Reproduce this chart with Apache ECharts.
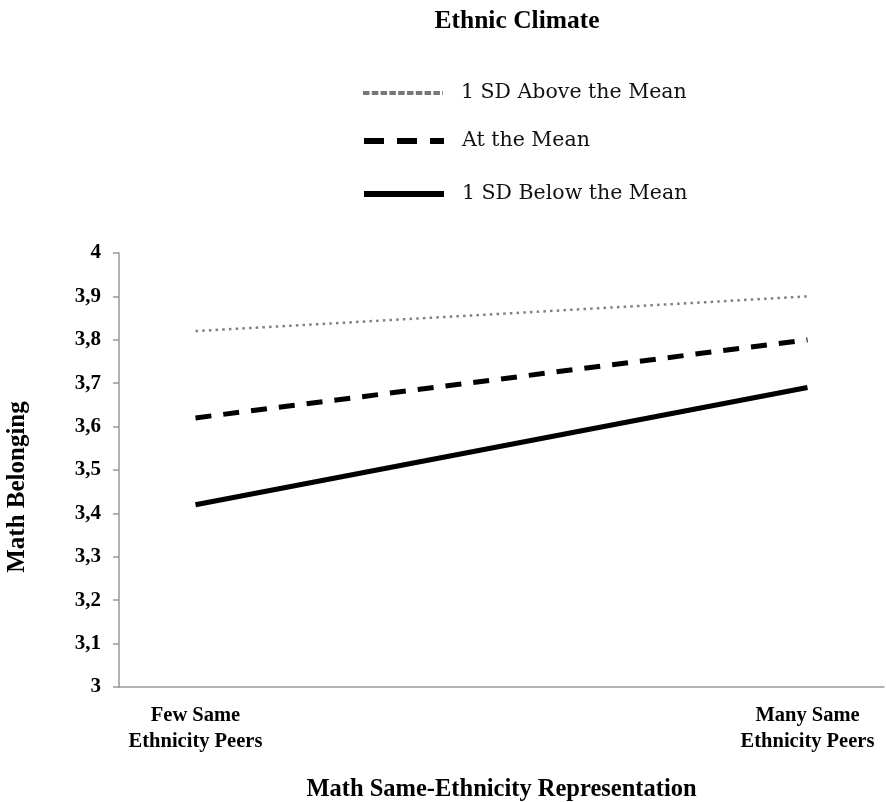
<!DOCTYPE html>
<html>
<head>
<meta charset="utf-8">
<script src="https://cdn.jsdelivr.net/npm/echarts@6/dist/echarts.min.js"></script>
<style>
  html, body { margin: 0; padding: 0; background: #fff; }
  #chart { width: 886px; height: 802px; }
</style>
</head>
<body>
<div id="chart"></div>
<script>
// categories (data only at both ends, middle slots kept empty like the original sheet)
var categories = ['Few Same\nEthnicity Peers', '', '', '', 'Many Same\nEthnicity Peers'];
var seriesNames = ['1 SD Above the Mean', 'At the Mean', '1 SD Below the Mean'];
var aboveMean = [3.82, null, null, null, 3.90];
var atMean = [3.62, null, null, null, 3.80];
var belowMean = [3.42, null, null, null, 3.69];

var serif = '"Liberation Serif", "Times New Roman", serif';
var legendFont = '"DejaVu Serif", serif';

// line looks for the plot and for the legend icons
var styles = [
    {color: '#808080', width: 2.5, type: [2.5, 4.2]},
    {color: '#000', width: 5, type: [16, 12]},
    {color: '#000', width: 5, type: 'solid'}
];
var legendStyles = [
    {color: '#777', width: 4, type: [6.5, 2.3]},
    {color: '#000', width: 6, type: [20, 13]},
    {color: '#000', width: 6, type: 'solid'}
];
var legendTops = [76, 124, 177];

var chart = echarts.init(document.getElementById('chart'));

var legends = [];
for (var i = 0; i < seriesNames.length; i++) {
    legends.push({
        orient: 'vertical',
        left: 356,
        top: legendTops[i],
        itemWidth: 80,
        itemHeight: 24,
        itemStyle: {opacity: 0},
        textStyle: {fontFamily: legendFont, fontSize: 20.5, lineHeight: 24, color: '#111', padding: [0, 0, 0, 13]},
        data: [{name: seriesNames[i], lineStyle: legendStyles[i]}]
    });
}

var values = [aboveMean, atMean, belowMean];
var series = [];
for (var j = 0; j < seriesNames.length; j++) {
    series.push({
        name: seriesNames[j],
        type: 'line',
        data: values[j],
        connectNulls: true,
        symbol: 'none',
        lineStyle: styles[j],
        itemStyle: {color: styles[j].color}
    });
}

var option = {
    backgroundColor: '#fff',
    animation: false,
    title: {
        text: 'Ethnic Climate',
        left: 512,
        top: 3,
        textAlign: 'center',
        textStyle: {fontFamily: serif, fontWeight: 'bold', fontSize: 25.5, color: '#000'}
    },
    legend: legends,
    grid: {left: 119, right: 2, top: 253, bottom: 115, outerBoundsMode: 'none'},
    xAxis: {
        type: 'category',
        data: categories,
        boundaryGap: true,
        name: 'Math Same-Ethnicity Representation',
        nameLocation: 'middle',
        nameGap: 90,
        nameTextStyle: {fontFamily: serif, fontWeight: 'bold', fontSize: 24.5, color: '#000'},
        axisLine: {lineStyle: {color: '#999', width: 1.5}},
        axisTick: {
            length: 6,
            interval: function (i) { return i !== 1; },
            lineStyle: {color: '#999', width: 1.5}
        },
        axisLabel: {
            interval: 0,
            margin: 16,
            fontFamily: serif,
            fontWeight: 'bold',
            fontSize: 20.5,
            lineHeight: 26,
            color: '#000'
        },
        splitLine: {show: false}
    },
    yAxis: {
        type: 'value',
        min: 3,
        max: 4,
        interval: 0.1,
        axisLine: {show: true, lineStyle: {color: '#999', width: 1.5}},
        axisTick: {show: true, length: 6, lineStyle: {color: '#999', width: 1.5}},
        axisLabel: {
            margin: 18,
            fontFamily: serif,
            fontWeight: 'bold',
            fontSize: 21,
            color: '#000',
            formatter: function (v) {
                return (Math.round(v * 10) / 10).toString().replace('.', ',');
            }
        },
        splitLine: {show: false}
    },
    graphic: [{
        type: 'text',
        x: 18,
        y: 487,
        rotation: Math.PI / 2,
        style: {
            text: 'Math Belonging',
            fontFamily: serif,
            fontWeight: 'bold',
            fontSize: 25,
            fill: '#000',
            textAlign: 'center',
            textVerticalAlign: 'middle'
        }
    }],
    series: series
};

chart.setOption(option);
</script>
</body>
</html>
